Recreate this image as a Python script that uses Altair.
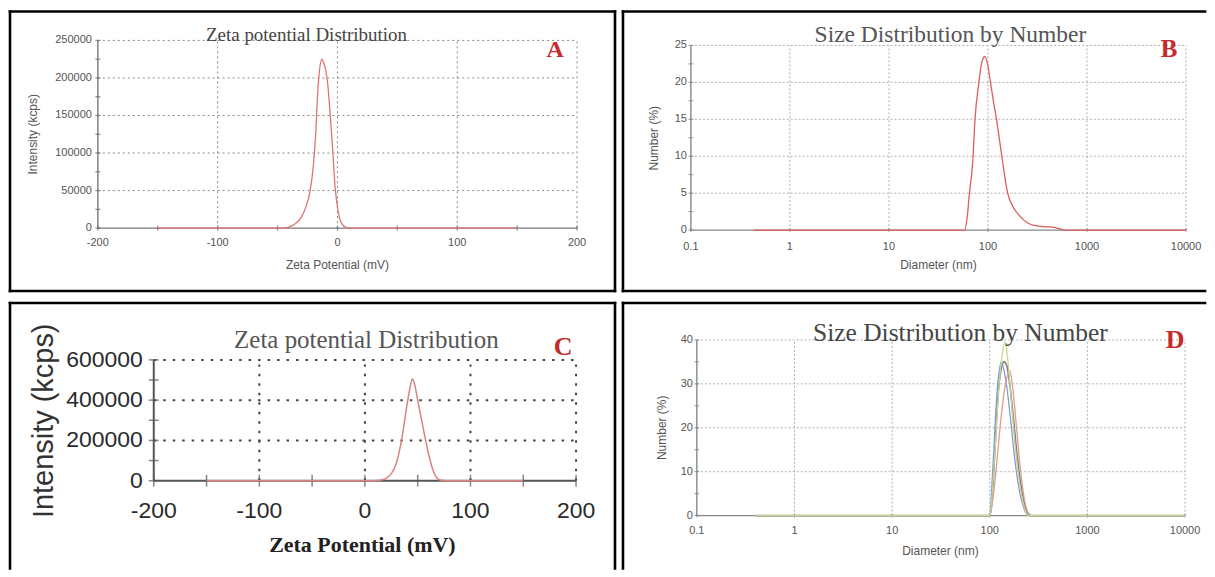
import altair as alt
import pandas as pd

# ---------------- values ----------------
# Panel A: Zeta potential distribution (mV -> kcps)
a_zeta = [-150, -45, -40, -35, -30, -26, -23, -20, -18, -16.5, -15, -13, -12, -10, -8, -6, -4, -2, 0, 2, 4, 7, 10, 150]
a_intensity = [0, 0, 1500, 6000, 15000, 30000, 48000, 85000, 130000, 180000, 210000, 225000, 222000, 212000,
               190000, 150000, 105000, 55000, 28000, 12000, 5000, 1000, 0, 0]
a_x_labels = [-200, -100, 0, 100, 200]
a_x_ticks = [-200, -150, -100, -50, 0, 50, 100, 150, 200]
a_y_labels = [0, 50000, 100000, 150000, 200000, 250000]
a_y_ticks = [0, 25000, 50000, 75000, 100000, 125000, 150000, 175000, 200000, 225000, 250000]

# Panel B: Size distribution by number (nm -> %)
b_diameter = [0.43, 58, 62, 65, 70, 74, 81, 87, 93, 100, 106, 114, 122, 138, 158, 180, 210, 250, 300, 380, 450, 520, 600, 10000]
b_number = [0, 0, 2, 5, 9, 15, 20, 22.8, 23.5, 22.2, 20, 17.3, 15, 10, 5, 3.1, 1.9, 1, 0.6, 0.45, 0.4, 0.2, 0, 0]
b_x_labels = [0.1, 1, 10, 100, 1000, 10000]
b_y_labels = [0, 5, 10, 15, 20, 25]
b_y_ticks = [0, 2.5, 5, 7.5, 10, 12.5, 15, 17.5, 20, 22.5, 25]

# Panel C: Zeta potential distribution (mV -> kcps)
c_zeta = [-150, 10, 15, 20, 25, 30, 35, 40, 43, 45, 47, 50, 53, 56, 60, 64, 68, 72, 76, 150]
c_intensity = [0, 0, 3000, 12000, 35000, 90000, 210000, 380000, 470000, 505000, 480000, 400000, 320000,
               240000, 140000, 60000, 15000, 2000, 0, 0]
c_x_labels = [-200, -100, 0, 100, 200]
c_x_ticks = [-200, -150, -100, -50, 0, 50, 100, 150, 200]
c_y_labels = [0, 200000, 400000, 600000]
c_y_ticks = [0, 100000, 200000, 300000, 400000, 500000, 600000]

# Panel D: Size distribution by number, several runs (nm -> %)
d_gray_x = [0.4, 100, 105, 110, 116, 122, 130, 140, 150, 160, 175, 190, 205, 220, 240, 260, 10000]
d_gray_y = [0, 0, 3, 10, 20, 28, 33, 35, 34, 30, 22, 14, 8, 4, 1, 0, 0]
d_blue_x = [0.4, 100, 104, 110, 117, 125, 132, 140, 150, 165, 180, 200, 225, 250, 10000]
d_blue_y = [0, 0, 5, 15, 26, 33, 35, 33, 29, 21, 13, 6, 1.5, 0, 0]
d_green_x = [0.4, 100, 106, 114, 123, 133, 143, 152, 165, 180, 200, 225, 250, 10000]
d_green_y = [0, 0, 5, 16, 28, 36, 39.5, 36, 27, 17, 8, 2, 0, 0]
d_red_x = [0.4, 100, 108, 118, 130, 145, 160, 172, 188, 205, 225, 250, 270, 10000]
d_red_y = [0, 0, 4, 12, 22, 30, 33, 29, 20, 11, 4, 0.5, 0, 0]
d_x_labels = [0.1, 1, 10, 100, 1000, 10000]
d_y_labels = [0, 10, 20, 30, 40]
d_y_ticks = [0, 5, 10, 15, 20, 25, 30, 35, 40]

# ---------------- helpers ----------------
SERIF = "Liberation Serif"
SANS = "Liberation Sans"
RED = "#c42b2b"
ONE = pd.DataFrame({"k": [0]})


def text(s, x, y, size, font, color, weight="normal", angle=0):
    return alt.Chart(ONE).mark_text(font=font, fontSize=size, color=color, fontWeight=weight,
                                    angle=angle, align="center", baseline="middle").encode(
        x=alt.value(x), y=alt.value(y), text=alt.value(s))


def border(x1, y1, x2, y2):
    return alt.Chart(ONE).mark_rule(color="black", strokeWidth=2.6, strokeCap="square").encode(
        x=alt.value(x1), x2=alt.value(x2), y=alt.value(y1), y2=alt.value(y2))


def X(xs):
    return alt.X("x:Q", scale=xs, axis=None)


def Y(ys):
    return alt.Y("y:Q", scale=ys, axis=None)


def vrules(vals, ymin, ymax, xs, ys, color, width, dash=None):
    df = pd.DataFrame({"x": vals, "y": [ymin] * len(vals), "y2": [ymax] * len(vals)})
    kw = dict(color=color, strokeWidth=width)
    if dash:
        kw["strokeDash"] = dash
    return alt.Chart(df).mark_rule(**kw).encode(x=X(xs), y=Y(ys), y2="y2:Q")


def hrules(vals, xmin, xmax, xs, ys, color, width, dash=None):
    df = pd.DataFrame({"y": vals, "x": [xmin] * len(vals), "x2": [xmax] * len(vals)})
    kw = dict(color=color, strokeWidth=width)
    if dash:
        kw["strokeDash"] = dash
    return alt.Chart(df).mark_rule(**kw).encode(y=Y(ys), x=X(xs), x2="x2:Q")


def xticks(vals, y0, xs, ys, size, color, width=1):
    df = pd.DataFrame({"x": vals, "y": [y0] * len(vals)})
    return alt.Chart(df).mark_tick(orient="vertical", size=size, thickness=width, color=color).encode(
        x=X(xs), y=Y(ys))


def yticks(vals, x0, xs, ys, size, color, width=1):
    df = pd.DataFrame({"y": vals, "x": [x0] * len(vals)})
    return alt.Chart(df).mark_tick(orient="horizontal", size=size, thickness=width, color=color).encode(
        x=X(xs), y=Y(ys))


def xlabels(vals, y0, xs, ys, size, color, dy):
    df = pd.DataFrame({"x": vals, "y": [y0] * len(vals), "lab": [str(v) for v in vals]})
    return alt.Chart(df).mark_text(font=SANS, fontSize=size, color=color, dy=dy,
                                   align="center", baseline="middle").encode(x=X(xs), y=Y(ys), text="lab:N")


def ylabels(vals, x0, xs, ys, size, color, pad):
    df = pd.DataFrame({"y": vals, "x": [x0] * len(vals), "lab": [str(v) for v in vals]})
    return alt.Chart(df).mark_text(font=SANS, fontSize=size, color=color, dx=-pad,
                                   align="right", baseline="middle").encode(x=X(xs), y=Y(ys), text="lab:N")


def curve(xv, yv, xs, ys, color, width):
    df = pd.DataFrame({"x": xv, "y": yv})
    return alt.Chart(df).mark_line(color=color, strokeWidth=width, interpolate="monotone").encode(
        x=X(xs), y=Y(ys))


W1, W2, H1, H2 = 612, 587, 289, 272

# ---------------- Panel A ----------------
xsA = alt.Scale(domain=[-200, 200], range=[90, 570], nice=False, zero=False)
ysA = alt.Scale(domain=[0, 250000], range=[220, 32], nice=False, zero=False)
panelA = alt.layer(
    vrules([-100, 0, 100, 200], 0, 250000, xsA, ysA, "#8a8a8a", 1, [2, 3]),
    hrules([50000, 100000, 150000, 200000, 250000], -200, 200, xsA, ysA, "#8a8a8a", 1, [2, 3]),
    hrules([0], -200, 200, xsA, ysA, "#777", 1.4),
    vrules([-200], 0, 250000, xsA, ysA, "#777", 1.4),
    xticks(a_x_ticks, 0, xsA, ysA, 5, "#666", 1.3),
    yticks(a_y_ticks, -200, xsA, ysA, 5, "#666", 1.3),
    curve(a_zeta, a_intensity, xsA, ysA, "#e07474", 1.3),
    xlabels(a_x_labels, 0, xsA, ysA, 11, "#555", 15),
    ylabels(a_y_labels, -200, xsA, ysA, 11, "#555", 6),
    text("Zeta potential Distribution", 299, 27, 19, SERIF, "#444"),
    text("A", 548, 42, 24, SERIF, RED, "bold"),
    text("Zeta Potential (mV)", 330, 257, 12, SANS, "#555"),
    text("Intensity (kcps)", 25, 126, 12, SANS, "#555", angle=270),
    border(2, 3, 608, 3), border(2, 283, 608, 283), border(2, 3, 2, 283), border(608, 3, 608, 283),
).properties(width=W1, height=H1)

# ---------------- Panel B ----------------
xsB = alt.Scale(type="log", domain=[0.1, 10000], range=[72, 568], nice=False)
ysB = alt.Scale(domain=[0, 25], range=[222, 37], nice=False, zero=False)
panelB = alt.layer(
    vrules([1, 10, 100, 1000, 10000], 0, 25, xsB, ysB, "#b0b0b0", 1, [2, 2]),
    hrules([5, 10, 15, 20, 25], 0.1, 10000, xsB, ysB, "#b0b0b0", 1, [2, 2]),
    hrules([0], 0.1, 10000, xsB, ysB, "#888", 1.4),
    vrules([0.1], 0, 25, xsB, ysB, "#888", 1.4),
    xticks(b_x_labels, 0, xsB, ysB, 4, "#777"),
    yticks(b_y_ticks, 0.1, xsB, ysB, 5, "#777"),
    curve(b_diameter, b_number, xsB, ysB, "#e05c5c", 1.3),
    xlabels(b_x_labels, 0, xsB, ysB, 11, "#555", 17),
    ylabels(b_y_labels, 0.1, xsB, ysB, 11, "#555", 4),
    text("Size Distribution by Number", 332, 27, 23.5, SERIF, "#555"),
    text("B", 551, 41, 25, SERIF, RED, "bold"),
    text("Diameter (nm)", 320, 257, 12, SANS, "#555"),
    text("Number (%)", 35, 130, 12, SANS, "#555", angle=270),
    border(4, 3, 587, 3), border(4, 283, 587, 283), border(4, 3, 4, 283),
).properties(width=W2, height=H1)

# ---------------- Panel C ----------------
xsC = alt.Scale(domain=[-200, 200], range=[146, 569], nice=False, zero=False)
ysC = alt.Scale(domain=[0, 600000], range=[184, 63], nice=False, zero=False)
panelC = alt.layer(
    vrules([-100, 0, 100, 200], 0, 600000, xsC, ysC, "#444", 2, [2.5, 7]),
    hrules([200000, 400000, 600000], -200, 200, xsC, ysC, "#444", 2, [2.5, 7]),
    hrules([0], -200, 200, xsC, ysC, "#555", 2),
    vrules([-200], 0, 600000, xsC, ysC, "#555", 2),
    xticks(c_x_ticks, 0, xsC, ysC, 12, "#555", 1.5),
    yticks(c_y_ticks, -200, xsC, ysC, 10, "#555", 1.5),
    curve(c_zeta, c_intensity, xsC, ysC, "#d98383", 1.5),
    xlabels(c_x_labels, 0, xsC, ysC, 23, "#2a2a2a", 30),
    ylabels(c_y_labels, -200, xsC, ysC, 23, "#2a2a2a", 11),
    text("Zeta potential Distribution", 359, 43, 25, SERIF, "#555"),
    text("C", 556, 50, 26, SERIF, RED, "bold"),
    text("Zeta Potential (mV)", 355, 248, 22, SERIF, "#222", "bold"),
    text("Intensity (kcps)", 36, 124, 29, SANS, "#333", angle=270),
    border(2, 6, 608, 6), border(2, 6, 2, 272), border(608, 6, 608, 272),
).properties(width=W1, height=H2)

# ---------------- Panel D ----------------
xsD = alt.Scale(type="log", domain=[0.1, 10000], range=[78, 567], nice=False)
ysD = alt.Scale(domain=[0, 40], range=[219, 43], nice=False, zero=False)
panelD = alt.layer(
    vrules([1, 10, 100, 1000, 10000], 0, 40, xsD, ysD, "#b0b0b0", 1, [2, 2]),
    hrules([10, 20, 30, 40], 0.1, 10000, xsD, ysD, "#b0b0b0", 1, [2, 2]),
    hrules([0], 0.1, 10000, xsD, ysD, "#888", 1.4),
    vrules([0.1], 0, 40, xsD, ysD, "#888", 1.4),
    xticks(d_x_labels, 0, xsD, ysD, 4, "#777"),
    yticks(d_y_ticks, 0.1, xsD, ysD, 5, "#777"),
    curve(d_gray_x, d_gray_y, xsD, ysD, "#7d7d7d", 1.6),
    curve(d_blue_x, d_blue_y, xsD, ysD, "#7f9fd6", 1.3),
    curve(d_red_x, d_red_y, xsD, ysD, "#e09a9a", 1.3),
    curve(d_green_x, d_green_y, xsD, ysD, "#c6d68a", 1.3),
    xlabels(d_x_labels, 0, xsD, ysD, 11, "#555", 15.5),
    ylabels(d_y_labels, 0.1, xsD, ysD, 11, "#555", 4),
    text("Size Distribution by Number", 342, 36, 25.5, SERIF, "#444"),
    text("D", 557, 43, 26, SERIF, RED, "bold"),
    text("Diameter (nm)", 322, 254, 12, SANS, "#555"),
    text("Number (%)", 43, 131, 12, SANS, "#555", angle=270),
    border(4, 6, 587, 6), border(4, 6, 4, 272),
).properties(width=W2, height=H2)

chart = alt.concat(panelA, panelB, panelC, panelD, columns=2, spacing=0, bounds="flush").properties(
    padding=0, background="white"
).configure_view(strokeWidth=0)

chart.save("out.html", embed_options={"renderer": "svg", "actions": False})
